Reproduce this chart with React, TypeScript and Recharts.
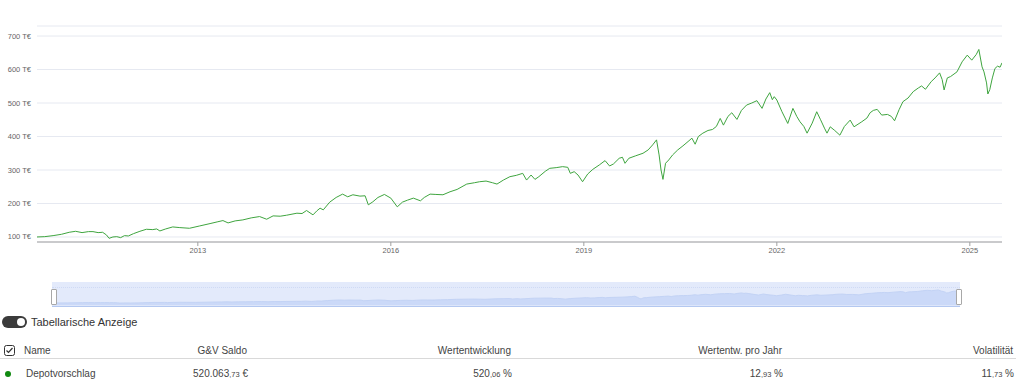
import React from "react";
import { LineChart, Line, XAxis, YAxis, CartesianGrid, AreaChart, Area } from "recharts";

const dates = [
  2010.5, 2010.62, 2010.75, 2010.88, 2011.0, 2011.1, 2011.2, 2011.3, 2011.37, 2011.45, 2011.52, 2011.58, 2011.62, 2011.68,
  2011.74, 2011.8, 2011.86, 2011.92, 2012.0, 2012.1, 2012.2, 2012.3, 2012.36, 2012.41, 2012.5, 2012.61, 2012.72, 2012.87,
  2013.03, 2013.19, 2013.3, 2013.39, 2013.47, 2013.58, 2013.7, 2013.83, 2013.96, 2014.07, 2014.17, 2014.28, 2014.38,
  2014.54, 2014.62, 2014.69, 2014.79, 2014.85, 2014.9, 2014.95, 2015.05, 2015.15, 2015.25, 2015.33, 2015.41, 2015.52,
  2015.6, 2015.65, 2015.72, 2015.8, 2015.9, 2016.0, 2016.1, 2016.18, 2016.26, 2016.35, 2016.46, 2016.52, 2016.61, 2016.7,
  2016.81, 2016.92, 2017.03, 2017.18, 2017.3, 2017.38, 2017.48, 2017.58, 2017.65, 2017.75, 2017.85, 2017.95, 2018.05,
  2018.11, 2018.18, 2018.24, 2018.3, 2018.4, 2018.47, 2018.57, 2018.67, 2018.75, 2018.79, 2018.85, 2018.91, 2018.98,
  2019.06, 2019.14, 2019.24, 2019.33, 2019.4, 2019.46, 2019.55, 2019.6, 2019.64, 2019.7, 2019.8, 2019.92, 2020.0, 2020.07,
  2020.13, 2020.17, 2020.2, 2020.23, 2020.27, 2020.32, 2020.38, 2020.46, 2020.54, 2020.62, 2020.68, 2020.73, 2020.78,
  2020.85, 2020.93, 2021.0, 2021.06, 2021.12, 2021.17, 2021.24, 2021.3, 2021.38, 2021.45, 2021.53, 2021.61, 2021.69,
  2021.77, 2021.83, 2021.89, 2021.93, 2021.96, 2022.0, 2022.08, 2022.17, 2022.25, 2022.31, 2022.36, 2022.42, 2022.47,
  2022.55, 2022.62, 2022.68, 2022.74, 2022.78, 2022.83, 2022.9, 2022.98, 2023.05, 2023.14, 2023.2, 2023.32, 2023.4,
  2023.45, 2023.5, 2023.56, 2023.63, 2023.72, 2023.78, 2023.83, 2023.9, 2023.96, 2024.04, 2024.12, 2024.2, 2024.25,
  2024.31, 2024.4, 2024.46, 2024.53, 2024.57, 2024.6, 2024.65, 2024.7, 2024.8, 2024.88, 2024.96, 2025.03, 2025.1,
  2025.14, 2025.19, 2025.22, 2025.26, 2025.28, 2025.31, 2025.35, 2025.39, 2025.43, 2025.47, 2025.5,
];

const depotValues = [
  100, 101, 104, 108, 114, 117, 113, 116, 116, 113, 114, 106, 96, 100,
  101, 98, 104, 103, 110, 117, 123, 122, 124, 118, 124, 130, 128, 126,
  133, 140, 145, 149, 142, 148, 151, 157, 161, 153, 163, 162, 165,
  171, 170, 179, 166, 178, 186, 181, 204, 218, 228, 220, 226, 222,
  223, 196, 205, 218, 227, 216, 190, 204, 210, 216, 208, 218, 228, 227,
  226, 235, 242, 258, 262, 265, 267, 262, 258, 270, 280, 284, 290,
  270, 285, 272, 280, 296, 305, 307, 310, 308, 290, 295, 285, 265,
  288, 302, 315, 328, 312, 318, 335, 338, 320, 335, 342, 350, 360, 375,
  390, 345, 300, 272, 320, 330, 345, 360, 372, 385, 395, 377, 400,
  410, 418, 421, 430, 454, 434, 460, 471, 451, 478, 494, 500, 507,
  484, 512, 531, 510, 519, 509, 474, 439, 484, 460, 444, 430, 410,
  440, 474, 450, 425, 410, 429, 418, 404, 430, 449, 429, 444, 455,
  471, 478, 481, 464, 466, 460, 447, 480, 504, 515, 534, 545, 551,
  541, 564, 575, 590, 570, 539, 575, 579, 593, 623, 643, 628, 645,
  660, 608, 593, 560, 527, 540, 575, 603, 610, 607, 620,
];

const yTicks = [100, 200, 300, 400, 500, 600, 700];
const xTicks = [2013, 2016, 2019, 2022, 2025];

const headers = ["G&V Saldo", "Wertentwicklung", "Wertentw. pro Jahr", "Volatilität"];
const rowName = "Depotvorschlag";
const rowValues = [
  { main: "520.063", dec: ",73", unit: " €" },
  { main: "520", dec: ",06", unit: " %" },
  { main: "12", dec: ",93", unit: " %" },
  { main: "11", dec: ",73", unit: " %" },
];
const colRight = [247, 511, 782, 1013];

const data = dates.map((t, i) => ({ t, v: depotValues[i] }));

const FONT = "'Liberation Sans', Arial, sans-serif";

const YTick = (props: any) => {
  const { y, payload } = props;
  return (
    <text x={31} y={y} dy={2.5} textAnchor="end" fontSize={7.5} fill="#666" fontFamily={FONT}>
      {`${payload.value} T€`}
    </text>
  );
};

export default function App() {
  return (
    <div style={{ position: "absolute", left: 0, top: 0, width: 1024, height: 391, background: "#fff", fontFamily: FONT, overflow: "hidden" }}>
      <div style={{ position: "absolute", left: 0, top: 0 }}>
        <LineChart width={1024} height={262} data={data} margin={{ top: 26, right: 22, bottom: 0, left: 0 }}>
          <CartesianGrid vertical={false} stroke="#e6e9f1" />
          <XAxis
            dataKey="t"
            type="number"
            domain={[2010.5, 2025.5]}
            ticks={xTicks}
            allowDataOverflow
            height={20}
            tickSize={4}
            stroke="#a0a0a0"
            tick={{ fontSize: 7.5, fill: "#666", fontFamily: FONT }}
          />
          <YAxis
            type="number"
            domain={[85, 730]}
            ticks={yTicks}
            allowDataOverflow
            width={37}
            axisLine={false}
            tickLine={false}
            tick={<YTick />}
          />
          <Line type="linear" dataKey="v" stroke="#3fa53f" strokeWidth={1} dot={false} isAnimationActive={false} />
        </LineChart>
      </div>

      {/* navigator */}
      <div style={{ position: "absolute", left: 52, top: 282, width: 908, height: 25, background: "#e3eafb", borderBottom: "1px solid #b4c8f0", boxSizing: "border-box" }} />
      <div style={{ position: "absolute", left: 52, top: 287, width: 908, height: 0, borderTop: "1px dotted #cfdaf5" }} />
      <div style={{ position: "absolute", left: 52, top: 282 }}>
        <AreaChart width={908} height={24} data={data} margin={{ top: 0, right: 0, bottom: 0, left: 0 }}>
          <XAxis dataKey="t" type="number" domain={[2010.5, 2025.5]} hide />
          <YAxis type="number" domain={[-30, 1000]} hide />
          <Area type="linear" dataKey="v" stroke="#c3d3f5" strokeWidth={1} fill="#cbd9f8" fillOpacity={1} isAnimationActive={false} />
        </AreaChart>
      </div>
      <div style={{ position: "absolute", left: 51, top: 289, width: 4, height: 14, background: "#fff", border: "1px solid #a8a8a8", borderRadius: 1 }} />
      <div style={{ position: "absolute", left: 956, top: 289, width: 4, height: 14, background: "#fff", border: "1px solid #a8a8a8", borderRadius: 1 }} />

      {/* toggle */}
      <div style={{ position: "absolute", left: 2, top: 316, width: 25, height: 12, borderRadius: 6, background: "#3b3b3b" }}>
        <div style={{ position: "absolute", left: 15, top: 2, width: 8, height: 8, borderRadius: 4, background: "#fff" }} />
      </div>
      <div style={{ position: "absolute", left: 31, top: 315, fontSize: 11, lineHeight: "14px", color: "#333", whiteSpace: "nowrap" }}>Tabellarische Anzeige</div>

      {/* header row */}
      <svg style={{ position: "absolute", left: 4, top: 345 }} width={11} height={11}>
        <rect x={0.5} y={0.5} width={10} height={10} rx={2} fill="#fff" stroke="#333" />
        <path d="M2.5 5.5 L4.5 7.5 L8.5 3" fill="none" stroke="#333" strokeWidth={1.2} />
      </svg>
      <div style={{ position: "absolute", left: 24, top: 345, fontSize: 10, lineHeight: "12px", color: "#444", whiteSpace: "nowrap" }}>Name</div>
      {headers.map((h, i) => (
        <div key={h} style={{ position: "absolute", right: 1024 - colRight[i], top: 345, fontSize: 10, lineHeight: "12px", color: "#444", whiteSpace: "nowrap", textAlign: "right" }}>{h}</div>
      ))}
      <div style={{ position: "absolute", left: 0, top: 358, width: 1016, height: 1, background: "#d9d9d9" }} />

      {/* data row */}
      <div style={{ position: "absolute", left: 5, top: 371, width: 6, height: 6, borderRadius: 3, background: "#118a11" }} />
      <div style={{ position: "absolute", left: 26, top: 368, fontSize: 10, lineHeight: "12px", color: "#444", whiteSpace: "nowrap" }}>{rowName}</div>
      {rowValues.map((r, i) => (
        <div key={i} style={{ position: "absolute", right: 1024 - colRight[i] - 1, top: 368, fontSize: 10, lineHeight: "12px", color: "#444", whiteSpace: "nowrap", textAlign: "right" }}>
          {r.main}
          <span style={{ fontSize: 7.5 }}>{r.dec}</span>
          {r.unit}
        </div>
      ))}
    </div>
  );
}
